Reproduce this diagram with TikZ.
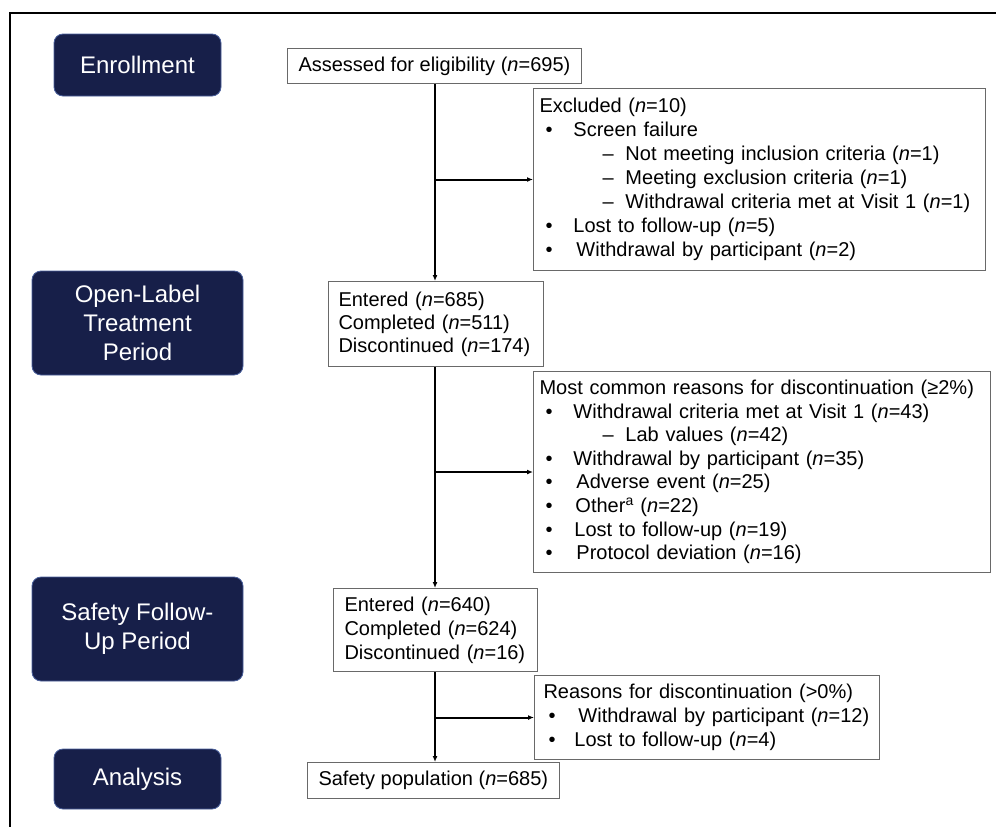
\documentclass[tikz,border=0pt]{standalone}
\usepackage{fontspec}
\setmainfont{Liberation Sans}
\usepackage{tikz}
\usetikzlibrary{arrows.meta,positioning,calc}
\usepackage{xcolor}

\definecolor{navy}{RGB}{23,31,73}
\definecolor{navyedge}{RGB}{74,96,156}
\definecolor{boxgray}{RGB}{105,105,105}

\newcommand{\itm}[2][28pt]{\hspace*{6pt}\makebox[#1][l]{\textbullet}#2}
\newcommand{\subitm}[1]{\hspace*{63pt}\makebox[23pt][l]{--}#1}
\newcommand{\nn}[1]{(\textit{n}=#1)}

\begin{document}
\begin{tikzpicture}[x=1pt, y=-1pt,
    phase/.style={rounded corners=9pt, fill=navy, draw=navyedge, line width=0.8pt, text=white, align=center, font=\fontsize{24}{29}\selectfont},
    box/.style={draw=boxgray, line width=1pt, fill=white, align=left, anchor=north west, inner ysep=0pt, font=\fontsize{20}{24}\selectfont},
    flow/.style={line width=2pt, -{Latex[length=6pt,width=5pt]}}
]
\useasboundingbox (0,0) rectangle (996,827);

% Frame
\draw[line width=1.8pt] (10,827) -- (10,13) -- (996,13);

% Phases
\node[phase, minimum width=167pt, minimum height=62pt] (enr) at (137.5,65) {Enrollment};
\node[phase, minimum width=211pt, minimum height=104pt] (olt) at (137.5,323) {Open-Label\\Treatment\\Period};
\node[phase, minimum width=211pt, minimum height=104pt] (sfu) at (137.5,629) {Safety Follow-\\Up Period};
\node[phase, minimum width=167pt, minimum height=60pt] (ana) at (137.5,779) {Analysis};

% Flow boxes
\node[box, inner xsep=11pt, minimum height=35pt] (assess) at (287,48) {Assessed for eligibility \nn{695}};
\node[box, inner xsep=10pt, text width=195pt, minimum height=85pt, font=\fontsize{20}{23}\selectfont] (ent1) at (328,281)
  {Entered \nn{685}\\Completed \nn{511}\\Discontinued \nn{174}};
\node[box, inner xsep=11pt, text width=182pt, minimum height=83pt, font=\fontsize{20}{24}\selectfont] (ent2) at (333,588)
  {Entered \nn{640}\\Completed \nn{624}\\Discontinued \nn{16}};
\node[box, inner xsep=11pt, minimum height=36pt] (pop) at (307,762) {Safety population \nn{685}};

% Side boxes
\node[box, inner xsep=6pt, text width=440pt, minimum height=182pt] (excl) at (533,88)
  {Excluded \nn{10}\\
   \itm{Screen failure}\\
   \subitm{Not meeting inclusion criteria \nn{1}}\\
   \subitm{Meeting exclusion criteria \nn{1}}\\
   \subitm{Withdrawal criteria met at Visit 1 \nn{1}}\\
   \itm{Lost to follow-up \nn{5}}\\
   \itm[31pt]{Withdrawal by participant \nn{2}}};
\node[box, inner xsep=6pt, text width=445pt, minimum height=201pt, font=\fontsize{20}{23.6}\selectfont] (disc) at (533,371)
  {Most common reasons for discontinuation (≥2\%)\\
   \itm{Withdrawal criteria met at Visit 1 \nn{43}}\\
   \subitm{Lab values \nn{42}}\\
   \itm{Withdrawal by participant \nn{35}}\\
   \itm[31pt]{Adverse event \nn{25}}\\
   \itm[30pt]{Other\textsuperscript{a} \nn{22}}\\
   \itm[29pt]{Lost to follow-up \nn{19}}\\
   \itm[31pt]{Protocol deviation \nn{16}}};
\node[box, inner xsep=9pt, text width=327pt, minimum height=84pt] (rsn) at (534,675)
  {Reasons for discontinuation (>0\%)\\
   \hspace*{-1pt}\itm[30pt]{Withdrawal by participant \nn{12}}\\
   \hspace*{-1pt}\itm[26pt]{Lost to follow-up \nn{4}}};

% Spine
\coordinate (spine) at (435,0);
\draw[flow] (assess.south -| spine) -- (ent1.north -| spine);
\draw[flow] (ent1.south -| spine) -- (ent2.north -| spine);
\draw[flow] (ent2.south -| spine) -- (pop.north -| spine);

% Branches
\draw[flow] (spine |- excl.west) -- (excl.west);
\draw[flow] (spine |- disc.west) -- (disc.west);
\draw[flow] (spine |- rsn.west) -- (rsn.west);

\end{tikzpicture}
\end{document}
